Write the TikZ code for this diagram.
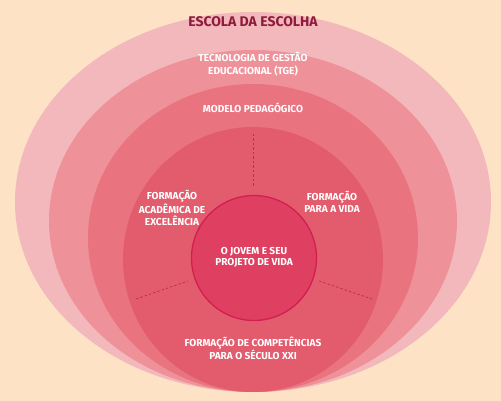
\documentclass[tikz,border=0pt]{standalone}
\usepackage{fontspec}
\setmainfont{Fira Sans}
\definecolor{bgpeach}{HTML}{FDE2C5}
\definecolor{ringA}{HTML}{F3B8BB}
\definecolor{ringB}{HTML}{EE9198}
\definecolor{ringC}{HTML}{E9737F}
\definecolor{ringD}{HTML}{E25C6D}
\definecolor{corefill}{HTML}{DF3F60}
\definecolor{corerim}{HTML}{D21F50}
\definecolor{titlecol}{HTML}{8E1B3B}
\definecolor{dashcol}{HTML}{BE2A4E}
\tikzset{
  lbl/.style={text=white, font=\bfseries\fontsize{10.1}{11.5}\selectfont, align=center, inner sep=0pt},
  dashline/.style={draw=dashcol, dash pattern=on 2.5pt off 2pt, line width=0.7pt},
}
\begin{document}
\begin{tikzpicture}[x=1pt,y=-1pt]
\useasboundingbox (0,0) rectangle (501,401);
\fill[bgpeach] (0,0) rectangle (501,401);
\fill[ringA] (253,202) ellipse [x radius=238pt, y radius=190pt];
\fill[ringB] (253,221) ellipse [x radius=204pt, y radius=171pt];
\fill[ringC] (253,238) ellipse [x radius=165pt, y radius=154pt];
\fill[ringD] (253,259.5) ellipse [x radius=130pt, y radius=132.5pt];
% dashed dividers
\coordinate (t1) at (253,134); \coordinate (t2) at (253,187);
\coordinate (l1) at (136,299); \coordinate (l2) at (188,281);
\coordinate (r1) at (319,281); \coordinate (r2) at (372,299);
\draw[dashline] (t1) -- (t2);
\draw[dashline] (l1) -- (l2);
\draw[dashline] (r1) -- (r2);
% core
\node[circle, minimum size=125pt, inner sep=0pt, fill=corefill, draw=corerim, line width=1.3pt] (core) at (254,258) {};
\node[lbl] (jovem) at (254,257.5) {O JOVEM E SEU\\PROJETO DE VIDA};
% labels
\node[text=titlecol, font=\bfseries\fontsize{14}{16}\selectfont, inner sep=0pt] (escola) at (253,22) {ESCOLA DA ESCOLHA};
\node[lbl, font=\bfseries\fontsize{10.1}{13.3}\selectfont] (tge) at (253,64) {TECNOLOGIA DE GESTÃO\\EDUCACIONAL (TGE)};
\node[lbl] (modelo) at (253,108) {MODELO PEDAGÓGICO};
\node[lbl, font=\bfseries\fontsize{10.1}{12}\selectfont] (acad) at (172,208) {FORMAÇÃO\\ACADÊMICA DE\\EXCELÊNCIA};
\node[lbl, font=\bfseries\fontsize{10.1}{12}\selectfont] (vida) at (332,202) {FORMAÇÃO\\PARA A VIDA};
\node[lbl] (comp) at (253,348.5) {FORMAÇÃO DE COMPETÊNCIAS\\PARA O SÉCULO XXI};
\end{tikzpicture}
\end{document}
